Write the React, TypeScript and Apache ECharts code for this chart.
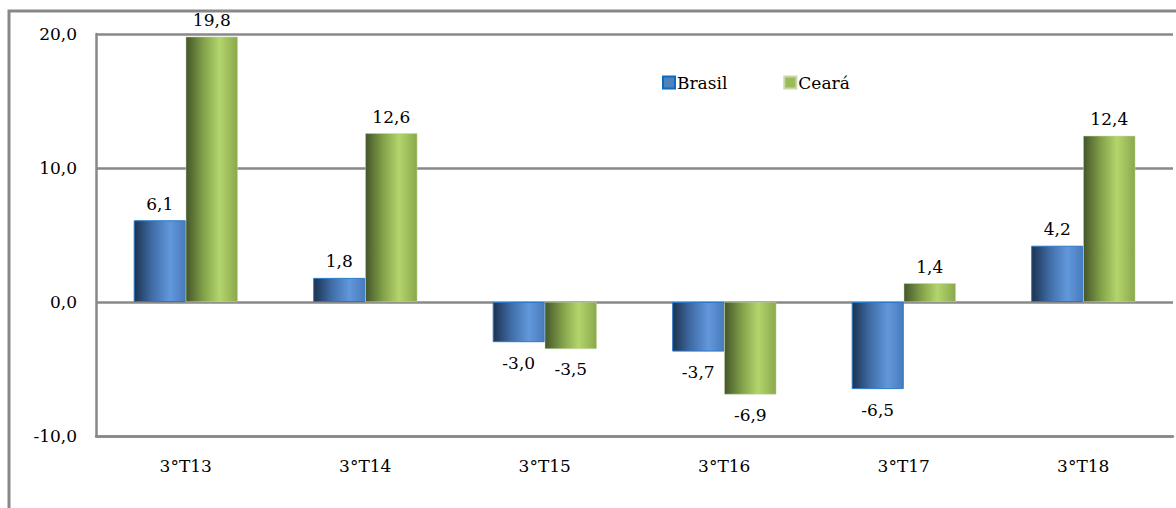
import React, { useEffect, useRef } from "react";
import * as echarts from "echarts";

const categories = ["3°T13", "3°T14", "3°T15", "3°T16", "3°T17", "3°T18"];
const brasil = [6.1, 1.8, -3.0, -3.7, -6.5, 4.2];
const ceara = [19.8, 12.6, -3.5, -6.9, 1.4, 12.4];
const seriesNames = ["Brasil", "Ceará"];

const FONT = "DejaVu Serif";

const fmt = (v: number) => v.toFixed(1).replace(".", ",");

export default function App() {
  const ref = useRef<HTMLDivElement>(null);
  useEffect(() => {
    const chart = echarts.init(ref.current!, null, { renderer: "svg" });
    const blueGrad = new echarts.graphic.LinearGradient(0, 0, 1, 0, [
      { offset: 0, color: "#1c3350" },
      { offset: 0.35, color: "#3f6ca6" },
      { offset: 0.7, color: "#6198dc" },
      { offset: 1, color: "#4a7bbb" },
    ]);
    const greenGrad = new echarts.graphic.LinearGradient(0, 0, 1, 0, [
      { offset: 0, color: "#44562a" },
      { offset: 0.35, color: "#84a34a" },
      { offset: 0.65, color: "#b3d56c" },
      { offset: 1, color: "#8aa84c" },
    ]);
    const labelStyle = {
      show: true,
      fontFamily: FONT,
      fontSize: 17,
      color: "#000",
      formatter: (p: any) => fmt(p.value),
    };
    const mk = (vals: number[]) =>
      vals.map((v) => ({
        value: v,
        label: v >= 0 ? { position: "top", distance: 8 } : { position: "bottom", distance: 12 },
      }));
    chart.setOption({
      animation: false,
      backgroundColor: "#fff",
      grid: { left: 96, right: 3, top: 34, bottom: 72, containLabel: false },
      legend: {
        data: [
          { name: seriesNames[0], itemStyle: { color: "#4f81bd", borderColor: "#0a6cc0", borderWidth: 2 } },
          { name: seriesNames[1], itemStyle: { color: "#9bbb59" } },
        ],
        left: 657,
        top: 69,
        itemWidth: 12,
        itemHeight: 12,
        itemGap: 56,
        icon: "rect",
        textStyle: { fontFamily: FONT, fontSize: 17, color: "#000", padding: [0, 0, 0, -3] },
      },
      xAxis: {
        type: "category",
        data: categories,
        axisLine: { onZero: false, lineStyle: { color: "#888", width: 2.5 } },
        axisTick: { show: false },
        axisLabel: { fontFamily: FONT, fontSize: 17, color: "#000", margin: 21 },
      },
      yAxis: {
        type: "value",
        min: -10,
        max: 20,
        interval: 10,
        axisLine: { show: true, lineStyle: { color: "#888", width: 2.5 } },
        axisTick: { show: false },
        axisLabel: {
          fontFamily: FONT,
          fontSize: 17,
          color: "#000",
          margin: 19,
          formatter: (v: number) => fmt(v),
        },
        splitLine: { show: true, lineStyle: { color: "#888", width: 2.5 } },
      },
      series: [
        {
          name: seriesNames[0],
          type: "bar",
          data: mk(brasil),
          barGap: "0%",
          barCategoryGap: "42%",
          itemStyle: { color: blueGrad, borderColor: "#2a78c8", borderWidth: 1 },
          label: labelStyle,
        },
        {
          name: seriesNames[1],
          type: "bar",
          data: mk(ceara),
          barGap: "0%",
          barCategoryGap: "42%",
          itemStyle: { color: greenGrad, borderColor: "#c8d8a8", borderWidth: 0.5 },
          label: labelStyle,
        },
      ],
      graphic: [
        {
          type: "rect",
          shape: { x: 9, y: 11, width: 1200, height: 600 },
          style: { fill: "none", stroke: "#888", lineWidth: 3 },
          silent: true,
          z: 100,
        },
      ],
    });
    return () => chart.dispose();
  }, []);
  return <div ref={ref} style={{ width: 1176, height: 508, position: "absolute", left: 0, top: 0 }} />;
}
